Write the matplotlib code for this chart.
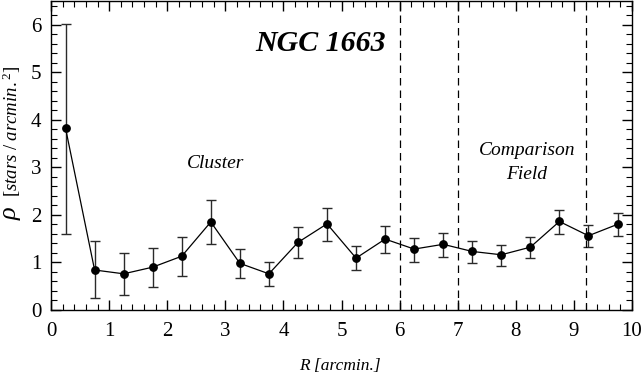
import numpy as np
import matplotlib.pyplot as plt
from matplotlib.ticker import MultipleLocator

plt.rcParams['font.family'] = ['Liberation Serif', 'DejaVu Serif']
plt.rcParams['mathtext.fontset'] = 'custom'
plt.rcParams['mathtext.it'] = 'Liberation Serif:italic'
plt.rcParams['mathtext.rm'] = 'Liberation Serif'

# radial density profile
r = [0.25, 0.75, 1.25, 1.75, 2.25, 2.75, 3.25, 3.75, 4.25, 4.75,
     5.25, 5.75, 6.25, 6.75, 7.25, 7.75, 8.25, 8.75, 9.25, 9.75]
rho = [3.82, 0.84, 0.76, 0.90, 1.13, 1.85, 0.98, 0.76, 1.42, 1.81,
       1.09, 1.49, 1.28, 1.38, 1.23, 1.16, 1.32, 1.86, 1.56, 1.80]
rho_hi = [6.02, 1.45, 1.20, 1.31, 1.53, 2.31, 1.28, 1.01, 1.74, 2.15,
          1.34, 1.77, 1.52, 1.62, 1.46, 1.37, 1.53, 2.11, 1.78, 2.03]
rho_lo = [1.60, 0.25, 0.32, 0.49, 0.72, 1.39, 0.67, 0.50, 1.10, 1.46,
          0.84, 1.20, 1.01, 1.11, 0.99, 0.92, 1.09, 1.60, 1.32, 1.55]
borders = [6.0, 7.0, 9.2]

rho = np.array(rho)
yerr = [rho - np.array(rho_lo), np.array(rho_hi) - rho]

fig = plt.figure(figsize=(6.41, 3.73), dpi=100)
ax = fig.add_axes([0.0796, 0.169, 0.9064, 0.829])

ax.errorbar(r, rho, yerr=yerr, fmt='o-', color='black', ecolor='#2a2a2a',
            ms=5.3, lw=0.9, elinewidth=1.0, capsize=3.6, capthick=1.0)
for b in borders:
    ax.axvline(b, color='black', lw=0.9, ls=(0, (6, 4)))

ax.set_xlim(0, 10)
ax.set_ylim(0, 6.5)
ax.xaxis.set_major_locator(MultipleLocator(1))
ax.xaxis.set_minor_locator(MultipleLocator(0.2))
ax.yaxis.set_major_locator(MultipleLocator(1))
ax.yaxis.set_minor_locator(MultipleLocator(0.2))
ax.tick_params(which='both', direction='in', top=True, right=True, labelsize=15)
ax.tick_params(axis='x', pad=9)
ax.tick_params(axis='y', pad=7)
ax.tick_params(which='major', length=7, width=1)
ax.tick_params(which='minor', length=4, width=0.8)
for s in ax.spines.values():
    s.set_linewidth(1.0)

ax.text(4.64, 5.6, 'NGC 1663', fontsize=21.5, fontweight='bold', style='italic',
        ha='center', va='center')
ax.text(2.83, 3.07, 'Cluster', fontsize=14, style='italic', ha='center', va='center')
ax.text(8.19, 3.1, 'Comparison\nField', fontsize=14, style='italic',
        ha='center', va='center', linespacing=1.5)

# axis labels placed by hand to match the original layout
fig.text(0.53, 0.02, 'R [arcmin.]', fontsize=12.5, style='italic',
         ha='center', va='center')
fig.text(0.0187, 0.429, r'$\rho$', fontsize=19, rotation=90, ha='center', va='center')
fig.text(0.0187, 0.649, r'$[stars\ /\ arcmin.^2]$', fontsize=13.5, rotation=90,
         ha='center', va='center')

fig.savefig('out.png', dpi=100)
